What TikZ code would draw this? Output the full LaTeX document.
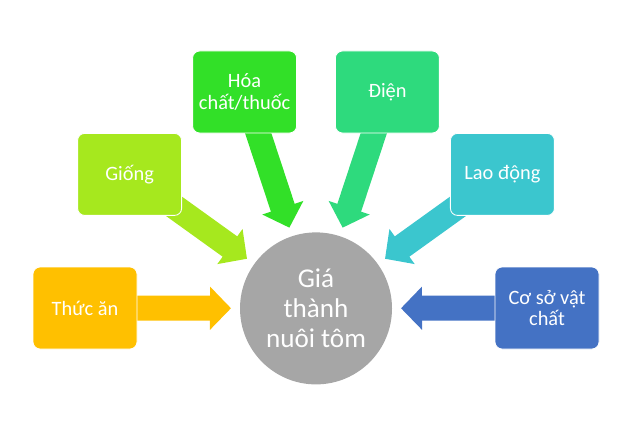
\documentclass[tikz,border=0pt]{standalone}
\usepackage{fontspec}
\setmainfont{Carlito}
\usetikzlibrary{arrows.meta,backgrounds}
\tikzset{factor/.style={rectangle,rounded corners=5pt,draw=white,line width=.6pt,minimum width=2.6cm,minimum height=2.05cm,inner sep=2pt,text=white,align=center,font=\fontsize{14.5}{15.6}\selectfont}, cost/.style={circle,fill=costgray,minimum size=3.8cm,inner sep=0pt,text=white,align=center,font=\fontsize{19.3}{21.3}\selectfont}, feed/.style={line width=.625cm,-{Triangle[width=1.05cm,length=.525cm]},shorten >=2.125cm}}
\definecolor{costgray}{RGB}{166,166,166}
\definecolor{feedorange}{RGB}{255,192,0}
\definecolor{seedgreen}{RGB}{166,232,30}
\definecolor{chemgreen}{RGB}{50,224,40}
\definecolor{powergreen}{RGB}{46,218,125}
\definecolor{labourcyan}{RGB}{59,198,206}
\definecolor{basisblue}{RGB}{68,114,196}

\begin{document}
\begin{tikzpicture}
\useasboundingbox (0,0) rectangle (16,10.5);
\node[cost] (gia) at (7.9,2.79) {Giá\\thành\\nuôi tôm};
\node[factor,fill=feedorange] (thucan) at (2.125,2.8) {Thức ăn};
\node[factor,fill=seedgreen] (giong) at (3.24,6.14) {Giống};
\node[factor,fill=chemgreen] (hoachat) at (6.115,8.2) {Hóa\\chất/thuốc};
\node[factor,fill=powergreen] (dien) at (9.685,8.2) {Điện};
\node[factor,fill=labourcyan] (laodong) at (12.56,6.14) {Lao động};
\node[factor,fill=basisblue] (coso) at (13.675,2.8) {Cơ sở vật\\chất};
\begin{scope}[on background layer]
\draw[feed,feedorange] (thucan.center) -- (gia.center);
\draw[feed,seedgreen] (giong.center) -- (gia.center);
\draw[feed,chemgreen] (hoachat.center) -- (gia.center);
\draw[feed,powergreen] (dien.center) -- (gia.center);
\draw[feed,labourcyan] (laodong.center) -- (gia.center);
\draw[feed,basisblue] (coso.center) -- (gia.center);
\end{scope}
\end{tikzpicture}
\end{document}
